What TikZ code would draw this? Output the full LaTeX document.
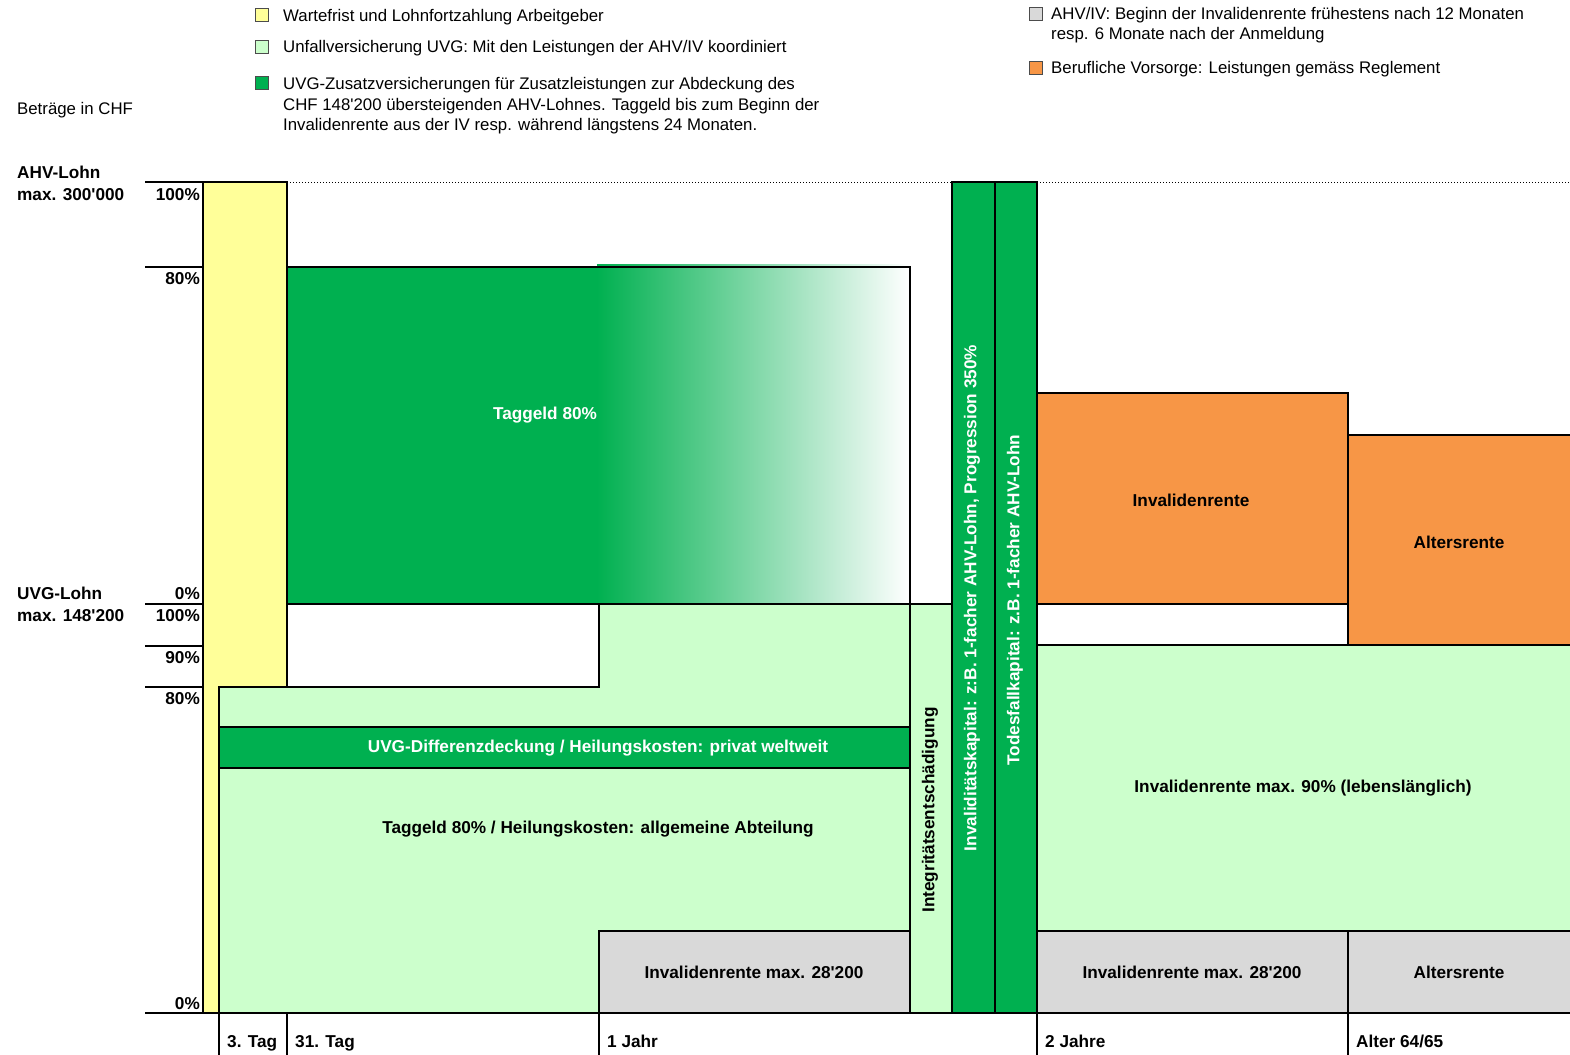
\documentclass[tikz,border=0pt]{standalone}
\usepackage{fontspec}
\setmainfont{Liberation Sans}

\definecolor{lohngelb}{HTML}{FFFF99}
\definecolor{uvghell}{HTML}{CCFFCC}
\definecolor{uvgdunkel}{HTML}{00B050}
\definecolor{bvgorange}{HTML}{F79646}
\definecolor{ahvgrau}{HTML}{D9D9D9}
\newcommand{\apo}{\textquotesingle}

\begin{document}
\begin{tikzpicture}[x=1pt,y=-1pt,font=\fontsize{16.8}{20}\selectfont]
	\tikzstyle{every node}+=[inner sep=0pt]
	\tikzstyle{feld}=[draw=black,line width=2.4pt]
	\tikzstyle{legende}=[draw=black!70,line width=1pt]
	\tikzstyle{fett}=[font=\fontsize{17.2}{22}\selectfont\bfseries]
	\tikzstyle{weiss}=[fett,text=white]
	\useasboundingbox (0,0) rectangle (1570,1054);
	% Legende (base = letzte Zeile)
	\draw [legende,fill=lohngelb] (255,9) rectangle (268,22);
	\node (lg1) [anchor=base west] at (283,22) {Wartefrist und Lohnfortzahlung Arbeitgeber};
	\draw [legende,fill=uvghell] (255,41) rectangle (268,54);
	\node (lg2) [anchor=base west] at (283,53) {Unfallversicherung UVG: Mit den Leistungen der AHV/IV koordiniert};
	\draw [legende,fill=uvgdunkel] (255,77) rectangle (268,90);
	\node (lg3) [anchor=base west,align=left] at (283,130) {UVG-Zusatzversicherungen für Zusatzleistungen zur Abdeckung des\\CHF 148\apo200 übersteigenden AHV-Lohnes. Taggeld bis zum Beginn der\\Invalidenrente aus der IV resp. während längstens 24 Monaten.};
	\draw [legende,fill=ahvgrau] (1029,8) rectangle (1042,21);
	\node (lg4) [anchor=base west,align=left] at (1051,40) {AHV/IV: Beginn der Invalidenrente frühestens nach 12 Monaten\\resp. 6 Monate nach der Anmeldung};
	\draw [legende,fill=bvgorange] (1029,62) rectangle (1042,75);
	\node (lg5) [anchor=base west] at (1051,74) {Berufliche Vorsorge: Leistungen gemäss Reglement};
	\node (chf) [anchor=base west] at (17,114) {Beträge in CHF};
	% Lohn-Achse links
	\node (ahv) [fett,anchor=base west,align=left] at (17,200) {AHV-Lohn\\max. 300\apo000};
	\node (uvg) [fett,anchor=base west,align=left] at (17,621) {UVG-Lohn\\max. 148\apo200};
	\foreach \y/\p/\n in {200/100\%/a, 284/80\%/b, 599/0\%/c, 621/100\%/d, 663/90\%/e, 704/80\%/f, 1009/0\%/g}
		\node (pz\n) [fett,anchor=base east] at (200,\y) {\p};
	% Wartefrist Arbeitgeber
	\draw [feld,fill=lohngelb] (203,182) rectangle (287,1013);
	% Taggeld Zusatzversicherung mit Verlauf
	\fill [uvgdunkel] (287,267) rectangle (598,604);
	\shade [left color=uvgdunkel,right color=white] (597,264) rectangle (910,604);
	\draw [feld] (287,267) rectangle (910,604);
	\node (tg) [weiss] at (545,415) {Taggeld 80\%};
	\draw [feld,fill=white] (287,604) rectangle (599,687);
	% UVG
	\draw [feld,fill=uvghell] (219,1013) -- (219,687) -- (599,687) -- (599,604) -- (910,604) -- (910,1013) -- cycle;
	\draw [feld,fill=uvgdunkel] (219,727) rectangle (910,768);
	\node (diff) [weiss] at (598,748) {UVG-Differenzdeckung / Heilungskosten: privat weltweit};
	\node (heil) [fett] at (598,829) {Taggeld 80\% / Heilungskosten: allgemeine Abteilung};
	\draw [feld,fill=ahvgrau] (599,931) rectangle (910,1013);
	\node (iv1) [fett] at (754,972) {Invalidenrente max. 28\apo200};
	% Kapitalleistungen
	\draw [feld,fill=uvghell] (910,604) rectangle (952,1013);
	\node (integ) [fett,rotate=90] at (930,810) {Integritätsentschädigung};
	\draw [feld,fill=uvgdunkel] (952,182) rectangle (995,1013);
	\node (invkap) [weiss,rotate=90] at (972,598) {Invaliditätskapital: z:B. 1-facher AHV-Lohn, Progression 350\%};
	\draw [feld,fill=uvgdunkel] (995,182) rectangle (1037,1013);
	\node (todkap) [weiss,rotate=90] at (1015,600) {Todesfallkapital: z.B. 1-facher AHV-Lohn};
	% Renten nach 2 Jahren
	\draw [feld,fill=bvgorange] (1037,393) rectangle (1348,604);
	\node (bvginv) [fett] at (1191,500) {Invalidenrente};
	\draw [feld,fill=bvgorange] (1348,435) rectangle (1575,645);
	\node (bvgalt) [fett] at (1459,542) {Altersrente};
	\draw [feld,fill=white] (1037,604) rectangle (1348,645);
	\draw [feld,fill=uvghell] (1037,645) rectangle (1575,931);
	\node (uvginv) [fett] at (1303,788) {Invalidenrente max. 90\% (lebenslänglich)};
	\draw [feld,fill=ahvgrau] (1037,931) rectangle (1348,1013);
	\node (iv2) [fett] at (1192,972) {Invalidenrente max. 28\apo200};
	\draw [feld,fill=ahvgrau] (1348,931) rectangle (1575,1013);
	\node (ahvalt) [fett] at (1459,972) {Altersrente};
	% Achsen
	\draw [dotted,line width=1pt] (287,182) -- (952,182);
	\draw [dotted,line width=1pt] (1037,182) -- (1570,182);
	\foreach \y in {182,267,604,646,687}
		\draw [line width=2.4pt] (145,\y) -- (203,\y);
	\draw [line width=2.4pt] (145,1013) -- (1575,1013);
	\foreach \x/\t/\n in {219/3. Tag/t3, 287/31. Tag/t31, 599/1 Jahr/j1, 1037/2 Jahre/j2, 1348/Alter 64\slash65/alt}
	{
		\draw [line width=2.4pt] (\x,1013) -- (\x,1060);
		\node (\n) [fett,anchor=base west] at (\x+8,1047) {\t};
	}
\end{tikzpicture}
\end{document}
